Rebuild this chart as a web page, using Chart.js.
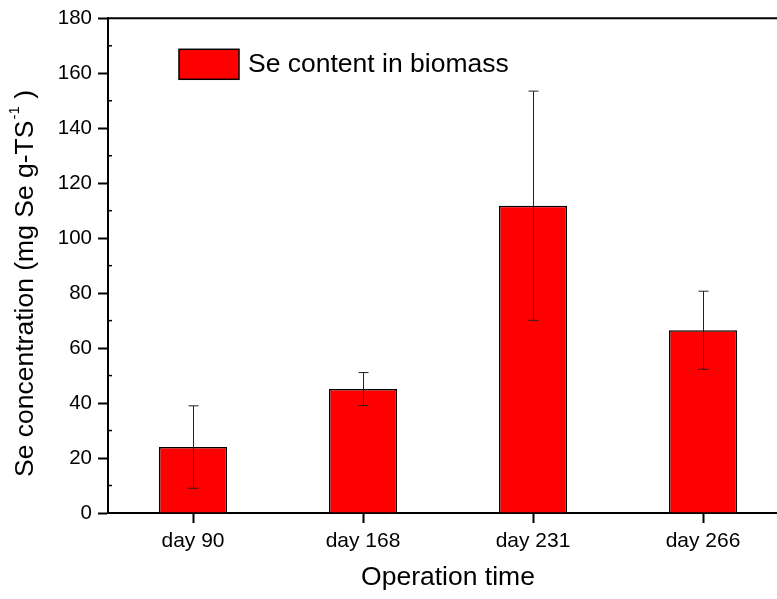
<!DOCTYPE html>
<html>
<head>
<meta charset="utf-8">
<script src="https://cdn.jsdelivr.net/npm/chart.js@4.4.1/dist/chart.umd.min.js"></script>
<style>
    html, body { margin: 0; padding: 0; background: #fff; overflow: hidden; }
    #wrap { width: 788px; height: 599px; }
</style>
</head>
<body>
<div id="wrap"><canvas id="chart" width="788" height="599"></canvas></div>
<script>
    // data
    var days = ['day 90', 'day 168', 'day 231', 'day 266'];
    var se_content = [24.0, 45.1, 111.8, 66.5];
    var se_error = [15.0, 6.0, 41.7, 14.2];
    var y_ticks = [0, 20, 40, 60, 80, 100, 120, 140, 160, 180];

    var FONT = "'Liberation Sans', Arial, sans-serif";

    // error bars, legend, y title with superscript, top frame line, minor ticks
    var extras = {
        id: 'extras',
        afterDatasetsDraw: function(chart) {
            var ctx = chart.ctx;
            var area = chart.chartArea;
            var xs = chart.scales.x;
            var ys = chart.scales.y;

            ctx.save();

            // error bars
            ctx.strokeStyle = '#222';
            ctx.lineWidth = 1;
            for (var i = 0; i < se_content.length; ++i) {
                var cx = Math.round(xs.getPixelForValue(i)) + 0.5;
                var top = ys.getPixelForValue(se_content[i] + se_error[i]);
                var bot = ys.getPixelForValue(se_content[i] - se_error[i]);
                ctx.beginPath();
                ctx.moveTo(cx, top);
                ctx.lineTo(cx, bot);
                ctx.moveTo(cx - 5, top);
                ctx.lineTo(cx + 5, top);
                ctx.moveTo(cx - 5, bot);
                ctx.lineTo(cx + 5, bot);
                ctx.stroke();
            }

            // top frame
            ctx.strokeStyle = '#000';
            ctx.lineWidth = 2;
            ctx.beginPath();
            ctx.moveTo(area.left - 1, area.top);
            ctx.lineTo(area.right, area.top);
            ctx.stroke();

            // minor ticks, inward
            ctx.lineWidth = 1.5;
            for (var j = 0; j < y_ticks.length - 1; ++j) {
                var mv = (y_ticks[j] + y_ticks[j + 1]) / 2;
                var my = ys.getPixelForValue(mv);
                ctx.beginPath();
                ctx.moveTo(area.left, my);
                ctx.lineTo(area.left + 4, my);
                ctx.stroke();
            }

            // legend
            var ds = chart.data.datasets[0];
            var lx = area.left + 71;
            var ly = area.top + 31;
            ctx.fillStyle = ds.backgroundColor;
            ctx.fillRect(lx, ly, 60, 30);
            ctx.lineWidth = 1.5;
            ctx.strokeStyle = '#000';
            ctx.strokeRect(lx, ly, 60, 30);
            ctx.fillStyle = '#000';
            ctx.font = '26.5px ' + FONT;
            ctx.textBaseline = 'middle';
            ctx.textAlign = 'left';
            ctx.fillText(ds.label, lx + 69, ly + 15);

            // y title, rotated, with a real superscript
            ctx.translate(33, 477);
            ctx.rotate(-Math.PI / 2);
            ctx.textBaseline = 'alphabetic';
            ctx.font = '26.5px ' + FONT;
            var main = 'Se concentration (mg Se g-TS';
            ctx.fillText(main, 0, 0);
            var w = ctx.measureText(main).width;
            ctx.font = '15px ' + FONT;
            ctx.fillText('-1', w + 1, -14);
            var w2 = ctx.measureText('-1').width;
            ctx.font = '26.5px ' + FONT;
            ctx.fillText(' )', w + w2 + 1, 0);

            ctx.restore();
        }
    };

    var chart_config = {
        type: 'bar',
        data: {
            labels: days,
            datasets: [{
                label: 'Se content in biomass',
                data: se_content,
                backgroundColor: '#ff0000',
                borderColor: '#000000',
                borderWidth: 1.5,
                barPercentage: 0.4,
                categoryPercentage: 1.0
            }]
        },
        options: {
            responsive: false,
            animation: false,
            layout: {
                padding: { top: 18, right: 0, left: 0, bottom: 0 }
            },
            plugins: {
                legend: { display: false },
                tooltip: { enabled: false }
            },
            scales: {
                x: {
                    offset: true,
                    grid: {
                        offset: false,
                        drawOnChartArea: false,
                        drawTicks: true,
                        tickLength: 10,
                        tickWidth: 2,
                        tickColor: '#000'
                    },
                    border: { color: '#000', width: 2 },
                    ticks: {
                        color: '#000',
                        padding: 6,
                        font: { family: FONT, size: 21 }
                    },
                    title: {
                        display: true,
                        text: 'Operation time',
                        color: '#000',
                        padding: { top: 0, bottom: 5 },
                        font: { family: FONT, size: 26.5 }
                    },
                    afterFit: function(scale) { scale.height = 86; }
                },
                y: {
                    min: 0,
                    max: 180,
                    afterBuildTicks: function(scale) {
                        scale.ticks = y_ticks.map(function(v) { return { value: v }; });
                    },
                    grid: {
                        drawOnChartArea: false,
                        drawTicks: true,
                        tickLength: 10,
                        tickWidth: 2,
                        tickColor: '#000'
                    },
                    border: { color: '#000', width: 2 },
                    ticks: {
                        color: '#000',
                        padding: 6,
                        font: { family: FONT, size: 20.5 }
                    },
                    afterFit: function(scale) { scale.width = 108; }
                }
            }
        },
        plugins: [extras]
    };

    var chart = new Chart(document.getElementById('chart'), chart_config);
</script>
</body>
</html>
